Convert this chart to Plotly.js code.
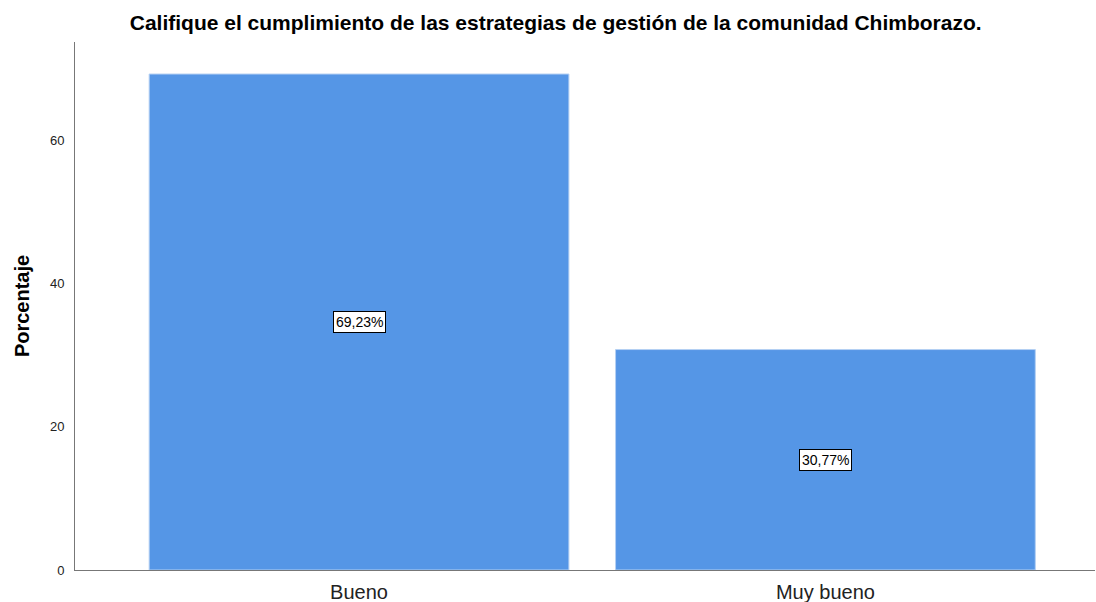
<!DOCTYPE html>
<html>
<head>
<meta charset="utf-8">
<script src="https://cdn.plot.ly/plotly-3.0.1.min.js"></script>
<style>html,body{margin:0;padding:0;background:#fff;}#chart{width:1096px;height:602px;}</style>
</head>
<body>
<div id="chart"></div>
<script>
const categories = ["Bueno", "Muy bueno"];
const percentages = [69.23, 30.77];
const valueLabels = ["69,23%", "30,77%"];
const yTicks = [0, 20, 40, 60];

const trace = {
  type: "bar",
  x: categories,
  y: percentages,
  width: 0.9,
  marker: {color: "#5596E6", line: {color: "#b5d0f3", width: 1}},
  hoverinfo: "none"
};

const annotations = categories.map((c, i) => ({
  x: c, y: percentages[i] / 2, xref: "x", yref: "y",
  text: valueLabels[i], showarrow: false,
  font: {family: "Liberation Sans, Arial, sans-serif", size: 14, color: "#000"},
  bgcolor: "#ffffff", bordercolor: "#000000", borderwidth: 1, borderpad: 2
}));

const layout = {
  width: 1096, height: 602,
  margin: {l: 75, r: 1, t: 42, b: 32},
  paper_bgcolor: "#fff", plot_bgcolor: "#fff",
  showlegend: false,
  title: {
    text: "<b>Califique el cumplimiento de las estrategias de gestión de la comunidad Chimborazo.</b>",
    font: {family: "Liberation Sans, Arial, sans-serif", size: 21, color: "#000"},
    x: 0.507, xanchor: "center", y: 0.962, yanchor: "middle"
  },
  xaxis: {
    range: [-0.609, 1.578],
    showline: true, linecolor: "#777", linewidth: 1,
    showgrid: false, zeroline: false, ticks: "", ticklabelstandoff: 4,
    tickfont: {family: "Liberation Sans, Arial, sans-serif", size: 20, color: "#222"},
    fixedrange: true
  },
  yaxis: {
    range: [0, 73.7],
    tickvals: yTicks, ticktext: yTicks.map(String),
    showline: true, linecolor: "#777", linewidth: 1,
    showgrid: false, zeroline: false, ticks: "", ticklabelstandoff: 7,
    tickfont: {family: "Liberation Sans, Arial, sans-serif", size: 13, color: "#222"},
    title: {text: "<b>Porcentaje</b>", standoff: 14,
      font: {family: "Liberation Sans, Arial, sans-serif", size: 20, color: "#000"}},
    fixedrange: true
  },
  annotations: annotations
};

Plotly.newPlot("chart", [trace], layout, {displayModeBar: false, staticPlot: true});
</script>
</body>
</html>
